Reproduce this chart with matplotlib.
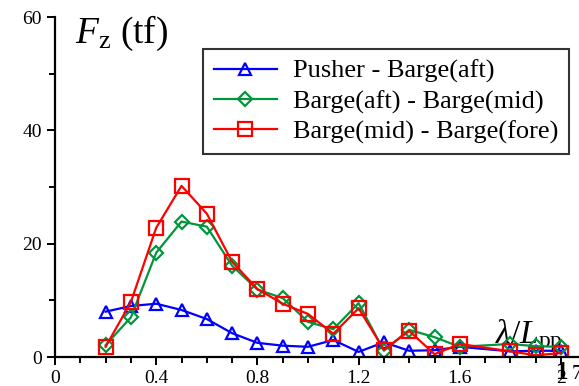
import numpy as np
import matplotlib
matplotlib.use("Agg")
import matplotlib.pyplot as plt
from matplotlib.ticker import MultipleLocator

# wave length ratio (no run at 1.7)
wl = [0.2, 0.3, 0.4, 0.5, 0.6, 0.7, 0.8, 0.9, 1.0, 1.1, 1.2, 1.3, 1.4, 1.5, 1.6, 1.8, 1.9, 2.0]

# vertical connector force, tf
pusher_aft = [8.0, 9.0, 9.4, 8.3, 6.7, 4.2, 2.5, 2.0, 1.8, 3.0, 0.9, 2.6, 1.1, 1.2, 1.8, 1.0, 1.1, 1.1]
aft_mid = [2.1, 7.0, 18.4, 23.9, 23.0, 16.1, 11.9, 10.4, 6.2, 4.9, 9.5, 1.1, 4.8, 3.5, 1.8, 2.3, 1.9, 1.8]
mid_fore = [1.8, 9.7, 22.8, 30.2, 25.3, 16.8, 12.0, 9.4, 7.6, 4.1, 8.6, 1.3, 4.6, 0.5, 2.3, 1.0, 0.3, 0.7]

labels = ["Pusher - Barge(aft)", "Barge(aft) - Barge(mid)", "Barge(mid) - Barge(fore)"]
xticklabels = ["0", "0.4", "0.8", "1.2", "1.6", "2"]

plt.rcParams["font.family"] = ["Liberation Serif", "DejaVu Serif"]
plt.rcParams["mathtext.fontset"] = "custom"
plt.rcParams["mathtext.rm"] = "Liberation Serif"
plt.rcParams["mathtext.it"] = "Liberation Serif:italic"

fig = plt.figure(figsize=(5.79, 3.86), dpi=100)
ax = fig.add_axes([55 / 579, 29 / 386, 524 / 579, 340 / 386])

ax.plot(wl, pusher_aft, color="#0000ff", marker="^", ms=9, mfc="none", mew=1.6, lw=1.6,
        label=labels[0])
ax.plot(wl, aft_mid, color="#00963c", marker="D", ms=7, mfc="none", mew=1.6, lw=1.6,
        label=labels[1])
ax.plot(wl, mid_fore, color="#ff0000", marker="s", ms=10, mfc="none", mew=1.6, lw=1.6,
        label=labels[2])

ax.set_xlim(0, 524 / 253)
ax.set_ylim(0, 60)
for s in ["top", "right"]:
    ax.spines[s].set_visible(False)
for s in ["left", "bottom"]:
    ax.spines[s].set_linewidth(1.6)

ax.set_xticks([0, 0.4, 0.8, 1.2, 1.6, 2.0])
ax.set_xticklabels(xticklabels)
ax.xaxis.set_minor_locator(MultipleLocator(0.1))
ax.set_yticks([0, 20, 40, 60])
ax.yaxis.set_minor_locator(MultipleLocator(10))
ax.tick_params(which="major", direction="out", length=6, width=1.4, labelsize=14)
ax.tick_params(which="minor", direction="out", length=4, width=1.4)

ax.text(0.08, 60.5, r"$F_{\rm z}$ (tf)", fontsize=27, va="top", ha="left")
ax.text(1.74, 0.3, r"$\lambda/L_{\rm pp}$", fontsize=24, va="bottom", ha="left", zorder=0)

leg = ax.legend(loc="upper left", bbox_to_anchor=(203 / 579, 1 - 49 / 386),
                bbox_transform=fig.transFigure, fontsize=19, frameon=True, fancybox=False,
                handlelength=2.4, borderpad=0.4, labelspacing=0.24, handletextpad=0.6,
                borderaxespad=0)
leg.get_frame().set_edgecolor("black")
leg.get_frame().set_linewidth(1.5)

# clipped text at the lower right corner
fig.text(562 / 579, 0.005, "1", fontsize=18, fontweight="bold", ha="center", va="bottom")
fig.text(577 / 579, 0.005, "7", fontsize=15, ha="center", va="bottom")

fig.savefig("out.png", dpi=100)
